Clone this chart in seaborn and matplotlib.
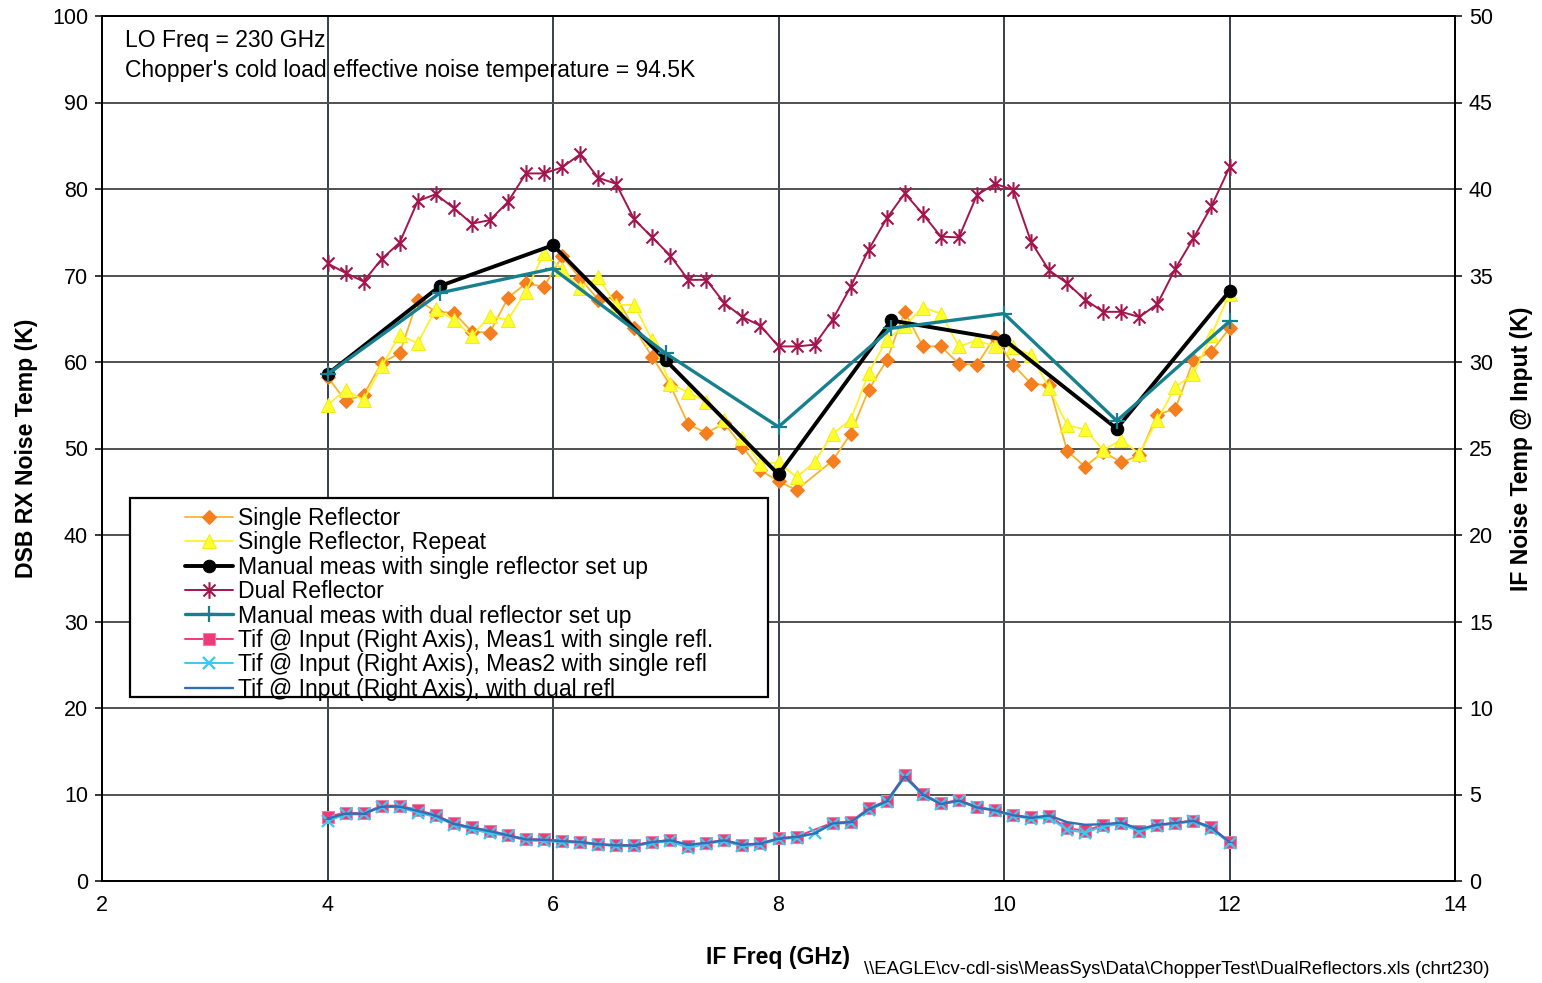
import numpy as np
import pandas as pd
import matplotlib
matplotlib.use("Agg")
import matplotlib.pyplot as plt
from matplotlib.path import Path
from matplotlib.patches import Rectangle
import seaborn as sns

# ---------------- data ----------------
freq = [round(4 + 0.16 * k, 2) for k in range(51)]

single_refl = [58.3, 55.5, 56.2, 59.9, 61.0, 67.2, 65.8, 65.7, 63.5, 63.4,
               67.4, 69.1, 68.7, 72.2, 69.7, 67.2, 67.5, 63.9, 60.6, 57.3,
               52.8, 51.8, 52.9, 50.2, 47.5, 46.2, 45.2, np.nan, 48.6, 51.7,
               56.8, 60.2, 65.8, 61.8, 61.8, 59.8, 59.7, 62.9, 59.7, 57.5,
               57.3, 49.7, 47.9, 49.6, 48.4, 49.2, 53.9, 54.6, 60.2, 61.2,
               63.9]

single_refl_rep = [55.0, 56.8, 55.6, 59.5, 63.1, 62.2, 66.1, 64.9, 63.0, 65.3,
                   64.9, 68.1, 72.6, 70.7, 68.5, 69.8, 66.6, 66.6, 62.5, 57.5,
                   56.5, 55.4, 53.3, 51.2, 48.2, 48.4, 46.7, 48.4, 51.7, 53.3,
                   58.7, 62.6, 64.2, 66.3, 65.6, 61.8, 62.5, 61.8, 61.7, 60.8,
                   57.0, 52.7, 52.2, 49.8, 51.0, 49.4, 53.3, 57.1, 58.6, 63.1,
                   67.9]

dual_refl = [71.4, 70.3, 69.3, 71.9, 73.8, 78.6, 79.4, 77.8, 76.0, 76.4,
             78.5, 81.8, 81.8, 82.5, 84.0, 81.3, 80.6, 76.5, 74.4, 72.3,
             69.5, 69.5, 66.8, 65.2, 64.2, 61.8, 61.8, 62.0, 64.9, 68.7,
             73.0, 76.6, 79.5, 77.1, 74.5, 74.4, 79.3, 80.6, 79.9, 73.9,
             70.6, 69.1, 67.2, 65.8, 65.8, 65.2, 66.7, 70.8, 74.3, 78.0,
             82.5]

manual_freq = [4, 5, 6, 7, 8, 9, 10, 11, 12]
manual_single = [58.6, 68.8, 73.5, 60.2, 47.0, 64.8, 62.6, 52.3, 68.2]
manual_dual = [58.6, 68.0, 70.8, 61.0, 52.5, 63.9, 65.6, 53.2, 64.7]

tif_meas1 = [3.72, 3.95, 3.91, 4.35, 4.35, 4.10, 3.81, 3.33, 3.10, 2.91,
             2.66, 2.41, 2.41, 2.33, 2.27, 2.14, 2.08, 2.08, 2.27, 2.37,
             2.05, 2.21, 2.37, 2.08, 2.18, 2.47, 2.56, np.nan, 3.37, 3.43,
             4.20, 4.64, 6.13, 5.03, 4.49, 4.68, 4.29, 4.10, 3.81, 3.68,
             3.76, 3.05, 2.91, 3.24, 3.37, 2.91, 3.24, 3.37, 3.49, 3.10,
             2.27]
tif_meas2 = [3.45, 3.85, 3.85, 4.30, 4.25, 3.95, 3.70, 3.25, 3.00, 2.75,
             2.60, 2.35, 2.30, 2.25, 2.20, 2.10, 2.02, 2.00, 2.20, 2.30,
             1.90, 2.15, 2.30, 2.00, 2.10, 2.40, 2.50, 2.75, 3.30, 3.35,
             4.10, 4.55, 6.00, 4.95, 4.45, 4.60, 4.25, 4.05, 3.75, 3.60,
             3.65, 2.95, 2.80, 3.15, 3.30, 2.85, 3.20, 3.30, 3.45, 3.00,
             2.20]
tif_dual = [3.60, 3.90, 3.88, 4.30, 4.30, 4.05, 3.78, 3.30, 3.08, 2.88,
            2.64, 2.40, 2.38, 2.30, 2.25, 2.12, 2.06, 2.05, 2.25, 2.35,
            2.10, 2.20, 2.35, 2.10, 2.16, 2.45, 2.55, 2.75, 3.33, 3.40,
            4.15, 4.60, 6.05, 5.00, 4.45, 4.65, 4.25, 4.08, 3.80, 3.65,
            3.78, 3.40, 3.25, 3.28, 3.37, 3.00, 3.25, 3.35, 3.48, 3.08,
            2.25]

labels = ["Single Reflector",
          "Single Reflector, Repeat",
          "Manual meas with single reflector set up",
          "Dual Reflector",
          "Manual meas with dual reflector set up",
          "Tif @ Input (Right Axis), Meas1 with single refl.",
          "Tif @ Input (Right Axis), Meas2 with single refl",
          "Tif @ Input (Right Axis), with dual refl"]

# ---------------- style ----------------
sns.set_theme(style="white")
plt.rcParams["font.family"] = ["Liberation Sans", "DejaVu Sans"]
plt.rcParams.update({"text.color": "black", "axes.labelcolor": "black",
                     "xtick.color": "black", "ytick.color": "black"})

# Excel-like star: vertical bar + X
star = Path([(0, -1), (0, 1), (-0.72, -0.72), (0.72, 0.72), (-0.72, 0.72), (0.72, -0.72)],
            [Path.MOVETO, Path.LINETO, Path.MOVETO, Path.LINETO, Path.MOVETO, Path.LINETO])

W, H = 1542, 983
fig = plt.figure(figsize=(W / 100, H / 100), dpi=100)
ax = fig.add_axes([102 / W, 1 - 881 / H, (1455 - 102) / W, (881 - 16) / H])
ax2 = ax.twinx()

# ---------------- left-axis series ----------------
sns.lineplot(x=freq, y=single_refl, ax=ax, color="#F7B52C", lw=1.3,
             marker="D", markersize=7.5, markerfacecolor="#F57F1F",
             markeredgecolor="#F57F1F", label=labels[0], legend=False)
sns.lineplot(x=freq, y=single_refl_rep, ax=ax, color="#FFF02A", lw=1.3,
             marker="^", markersize=10.5, markerfacecolor="#FFFF30",
             markeredgecolor="#F2EC1E", label=labels[1], legend=False)
sns.lineplot(x=manual_freq, y=manual_single, ax=ax, color="black", lw=2.8,
             marker="o", markersize=9, markerfacecolor="black",
             markeredgecolor="black", label=labels[2], legend=False)
sns.lineplot(x=freq, y=dual_refl, ax=ax, color="#A3154D", lw=1.4,
             marker=star, markersize=12, markeredgewidth=1.5,
             markerfacecolor="none", markeredgecolor="#A3154D",
             label=labels[3], legend=False)
sns.lineplot(x=manual_freq, y=manual_dual, ax=ax, color="#16808F", lw=2.4,
             marker="+", markersize=12, markeredgewidth=1.6,
             markeredgecolor="#16808F", label=labels[4], legend=False)

# ---------------- right-axis series ----------------
sns.lineplot(x=freq, y=tif_meas1, ax=ax2, color="#EE3B76", lw=1.4,
             marker="s", markersize=8, markerfacecolor="#EE3B76",
             markeredgecolor="#F57AA4", label=labels[5], legend=False)
sns.lineplot(x=freq, y=tif_meas2, ax=ax2, color="#3EC8F0", lw=1.4,
             marker="x", markersize=9, markeredgewidth=1.7,
             markeredgecolor="#3EC8F0", label=labels[6], legend=False)
sns.lineplot(x=freq, y=tif_dual, ax=ax2, color="#2F6FB5", lw=1.7,
             marker="_", markersize=4, markeredgecolor="#2F6FB5",
             label=labels[7], legend=False)

# ---------------- axes ----------------
ax.set_xlim(2, 14)
ax.set_ylim(0, 100)
ax2.set_ylim(0, 50)
ax.set_xticks(range(2, 15, 2))
ax.set_yticks(range(0, 101, 10))
ax2.set_yticks(range(0, 51, 5))

for a in (ax, ax2):
    a.tick_params(labelsize=15.5, direction="out", length=5, width=1.1,
                  colors="black", pad=5)
    for s in a.spines.values():
        s.set_color("black")
        s.set_linewidth(1.3)

ax.yaxis.grid(True, color="#505050", lw=1.4)
ax.xaxis.grid(False)
for xv in range(4, 13, 2):
    ax.axvline(xv, color="#15202a", lw=1.2, zorder=0.5)
ax.set_axisbelow(True)
ax2.grid(False)

ax.set_xlabel("IF Freq (GHz)", fontsize=16.6, fontweight="bold", labelpad=22)
ax.set_ylabel("DSB RX Noise Temp (K)", fontsize=16.6, fontweight="bold", labelpad=10)
ax2.set_ylabel("IF Noise Temp @ Input (K)", fontsize=16.6, fontweight="bold", labelpad=12)

ax.text(0.017, 0.972, "LO Freq = 230 GHz", transform=ax.transAxes,
        fontsize=16.5, va="center", ha="left")
ax.text(0.017, 0.937, "Chopper's cold load effective noise temperature = 94.5K",
        transform=ax.transAxes, fontsize=16.5, va="center", ha="left")
fig.text(1490 / W, 1 - 970 / H,
         "\\\\EAGLE\\cv-cdl-sis\\MeasSys\\Data\\ChopperTest\\DualReflectors.xls (chrt230)",
         fontsize=13.4, ha="right", va="center")

# ---------------- legend ----------------
def ax_x(px):
    return (px - 102) / 1353

def ax_y(py):
    return 1 - (py - 16) / 865

box = Rectangle((ax_x(130), ax_y(697)), ax_x(768) - ax_x(130), ax_y(498) - ax_y(697),
                transform=ax2.transAxes, facecolor="white", edgecolor="black",
                lw=1.6, zorder=9)
ax2.add_patch(box)

h1, l1 = ax.get_legend_handles_labels()
h2, l2 = ax2.get_legend_handles_labels()
leg = ax2.legend(h1 + h2, l1 + l2, loc="upper left",
                 bbox_to_anchor=(ax_x(185), ax_y(507)), borderaxespad=0,
                 fontsize=16.6, frameon=False, handlelength=2.1,
                 handletextpad=0.2, labelspacing=0.06, borderpad=0)
leg.set_zorder(10)

fig.savefig("out.png", dpi=100)
